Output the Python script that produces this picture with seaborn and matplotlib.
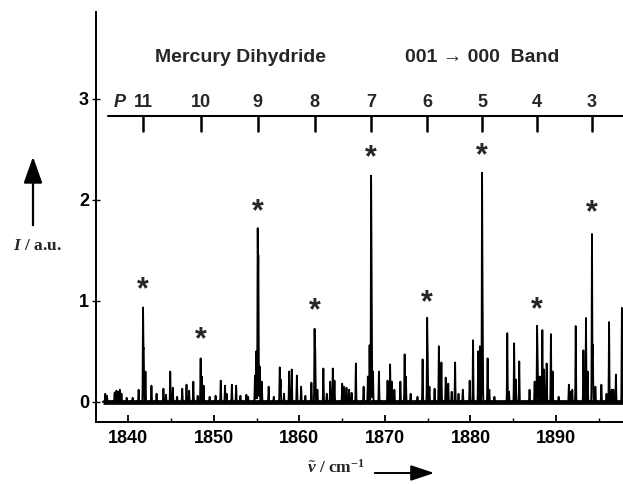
import numpy as np
import pandas as pd
import matplotlib
matplotlib.use("Agg")
import matplotlib.pyplot as plt
import seaborn as sns

# ---------------- data ----------------
line_pos = [1837.3, 1837.5, 1838.4, 1838.6, 1838.8, 1839.0, 1839.2, 1839.8, 1840.5,
            1841.2, 1841.72, 1841.8, 1842.0, 1842.7, 1843.3, 1844.1, 1844.4, 1844.9,
            1845.2, 1845.7, 1846.3, 1846.8, 1847.1, 1847.6, 1848.1, 1848.45, 1848.6,
            1848.8, 1849.5, 1850.2, 1850.8, 1851.3, 1851.5, 1852.1, 1852.6, 1853.1,
            1853.8, 1854.0, 1854.8, 1854.95, 1855.12, 1855.2, 1855.35, 1855.6, 1856.4,
            1857.0, 1857.7, 1857.8, 1858.2, 1858.8, 1859.1, 1859.7, 1860.2, 1860.7,
            1861.4, 1861.77, 1861.85, 1862.1, 1862.8, 1863.2, 1863.6, 1863.9, 1864.1,
            1865.0, 1865.2, 1865.5, 1865.8, 1866.1, 1866.6, 1867.5, 1868.0, 1868.2,
            1868.38, 1868.45, 1868.6, 1869.3, 1870.3, 1870.6, 1870.8, 1871.1, 1871.8,
            1872.3, 1872.45, 1873.0, 1873.8, 1874.4, 1874.93, 1875.0, 1875.2, 1875.8,
            1876.3, 1876.6, 1877.1, 1877.4, 1877.8, 1878.2, 1878.6, 1879.1, 1879.9,
            1880.3, 1880.9, 1881.1, 1881.35, 1881.42, 1882.0, 1882.2, 1882.8, 1884.3,
            1884.5, 1885.1, 1885.3, 1885.7, 1886.9, 1887.5, 1887.78, 1887.85, 1888.1,
            1888.4, 1888.6, 1888.9, 1889.4, 1889.6, 1890.3, 1891.5, 1891.7, 1891.9,
            1892.3, 1893.2, 1893.5, 1893.7, 1894.2, 1894.3, 1894.6, 1895.3, 1895.9,
            1896.2, 1896.5, 1896.7, 1897.0, 1897.7]
line_int = [0.08, 0.06, 0.09, 0.11, 0.10, 0.12, 0.08, 0.04, 0.04,
            0.12, 0.92, 0.50, 0.30, 0.16, 0.08, 0.13, 0.07, 0.30,
            0.14, 0.05, 0.13, 0.17, 0.11, 0.20, 0.06, 0.43, 0.25,
            0.16, 0.05, 0.06, 0.21, 0.16, 0.08, 0.17, 0.16, 0.06,
            0.07, 0.05, 0.26, 0.50, 1.68, 1.40, 0.35, 0.20, 0.15,
            0.05, 0.34, 0.22, 0.08, 0.30, 0.32, 0.26, 0.15, 0.06,
            0.19, 0.71, 0.50, 0.12, 0.33, 0.08, 0.20, 0.33, 0.21,
            0.18, 0.15, 0.14, 0.12, 0.09, 0.38, 0.15, 0.25, 0.56,
            2.18, 0.90, 0.30, 0.30, 0.21, 0.37, 0.20, 0.12, 0.20,
            0.47, 0.25, 0.08, 0.05, 0.42, 0.80, 0.45, 0.15, 0.13,
            0.55, 0.39, 0.24, 0.18, 0.10, 0.39, 0.08, 0.12, 0.21,
            0.61, 0.50, 0.55, 2.21, 0.90, 0.43, 0.12, 0.05, 0.68,
            0.10, 0.58, 0.22, 0.40, 0.12, 0.20, 0.72, 0.45, 0.25,
            0.71, 0.32, 0.38, 0.67, 0.30, 0.05, 0.17, 0.10, 0.12,
            0.75, 0.51, 0.83, 0.30, 1.66, 0.56, 0.15, 0.17, 0.08,
            0.79, 0.12, 0.12, 0.27, 0.93]

p_labels = ["11", "10", "9", "8", "7", "6", "5", "4", "3"]
p_pos = [1841.72, 1848.45, 1855.12, 1861.77, 1868.38, 1874.93, 1881.35, 1887.78, 1894.2]
star_y = [1.18, 0.69, 1.96, 0.98, 2.49, 1.06, 2.51, 0.99, 1.95]

x_start, x_end = 1837.0, 1898.0
xlim = (1836.22, 1897.83)
ylim = (-0.20, 3.86)

# build spectrum from the line list
grid = np.arange(x_start, x_end, 0.005)
sigma = 0.03
spec = np.zeros_like(grid)
for p, h in zip(line_pos, line_int):
    spec += h * np.exp(-0.5 * ((grid - p) / sigma) ** 2)
df = pd.DataFrame({"wn": grid, "I": spec})

# ---------------- style ----------------
sns.set_theme(style="ticks")
plt.rcParams["font.family"] = ["Liberation Sans", "DejaVu Sans"]
plt.rcParams["mathtext.fontset"] = "custom"
plt.rcParams["mathtext.rm"] = "Liberation Serif:bold"
plt.rcParams["mathtext.it"] = "Liberation Serif:italic:bold"
plt.rcParams["mathtext.bf"] = "Liberation Serif:bold"

fig = plt.figure(figsize=(6.23, 4.84), dpi=100)
ax = fig.add_axes([96 / 623, 1 - 422 / 484, 1 - 96 / 623, (422 - 12) / 484])

# baseline noise band
ax.plot([x_start, x_end], [0, 0], color="black", lw=3.4, solid_capstyle="butt", zorder=2)
sns.lineplot(data=df, x="wn", y="I", color="black", lw=1.3, estimator=None,
             sort=False, ax=ax, zorder=3)

ax.set_xlim(*xlim)
ax.set_ylim(*ylim)
sns.despine(ax=ax, top=True, right=True)
for s in ("left", "bottom"):
    ax.spines[s].set_linewidth(1.4)
    ax.spines[s].set_color("black")

ax.set_xticks([1840, 1850, 1860, 1870, 1880, 1890])
ax.set_xticks([1845, 1855, 1865, 1875, 1885, 1895], minor=True)
ax.set_yticks([0, 1, 2, 3])
ax.tick_params(axis="x", which="major", direction="in", length=5, width=1.3,
               labelsize=13, pad=6, colors="black")
ax.tick_params(axis="x", which="minor", direction="in", length=3, width=1.0, colors="black")
ax.tick_params(axis="y", which="major", direction="inout", length=6, width=1.0,
               labelsize=13, pad=2, colors="black")
for lab in ax.get_xticklabels() + ax.get_yticklabels():
    lab.set_fontweight("bold")
ax.set_xlabel("")
ax.set_ylabel("")

# P-branch assignment comb
ax.plot([1837.65, xlim[1]], [2.83, 2.83], color="black", lw=1.5, clip_on=False)
for p, lab in zip(p_pos, p_labels):
    ax.plot([p, p], [2.83, 2.68], color="black", lw=1.8)
    ax.text(p, 2.96, lab, ha="center", va="center", fontsize=13, fontweight="bold")
ax.text(1838.95, 2.96, "P", ha="center", va="center", fontsize=13,
        fontweight="bold", fontstyle="italic")

# asterisks
for p, y in zip(p_pos, star_y):
    ax.text(p, y - 0.08, "*", ha="center", va="center", fontsize=22, fontweight="bold")

# titles
ax.text(1853.1, 3.41, "Mercury Dihydride", ha="center", va="center",
        fontsize=14, fontweight="bold")
ax.text(1881.4, 3.41, "001 \u2192 000  Band", ha="center", va="center",
        fontsize=14, fontweight="bold", family=["Liberation Sans", "DejaVu Sans"])

# axis labels with arrows (figure coordinates)
def fx(px):
    return px / 623

def fy(py):
    return 1 - py / 484

fig.text(fx(37), fy(246), r"$I$ / a.u.", ha="center", va="center", fontsize=12.5,
         family="Liberation Serif", fontweight="bold")
fig.patches.append(matplotlib.patches.FancyArrowPatch(
    (fx(33), fy(228)), (fx(33), fy(154)), transform=fig.transFigure,
    arrowstyle="-|>,head_length=0.9,head_width=0.32", mutation_scale=18,
    color="black", lw=1.6))

fig.text(fx(336), fy(468), r"$\tilde{v}$ / cm$^{-1}$", ha="center", va="center",
         fontsize=12.5, family="Liberation Serif", fontweight="bold")
fig.patches.append(matplotlib.patches.FancyArrowPatch(
    (fx(372), fy(473)), (fx(437), fy(473)), transform=fig.transFigure,
    arrowstyle="-|>,head_length=0.9,head_width=0.3", mutation_scale=16,
    color="black", lw=1.4))

fig.savefig("out.png", dpi=100)
